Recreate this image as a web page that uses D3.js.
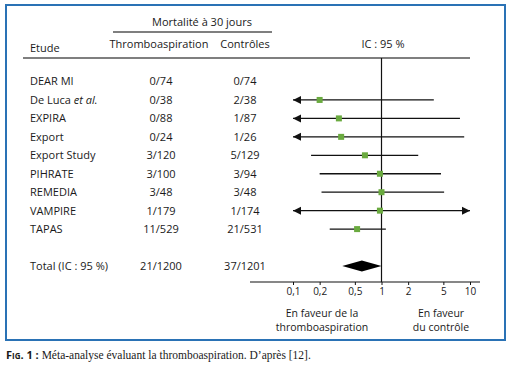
<!DOCTYPE html>
<html>
<head>
<meta charset="utf-8">
<script src="https://cdn.jsdelivr.net/npm/d3@7"></script>
<style>
  body { margin: 0; background: #fff; }
  svg text { font-family: "Open Sans", "DejaVu Sans", sans-serif; fill: #1a1a1a; }
</style>
</head>
<body>
<div id="chart"></div>
<script>
const studies = ["DEAR MI", "De Luca", "EXPIRA", "Export", "Export Study", "PIHRATE", "REMEDIA", "VAMPIRE", "TAPAS"];
const thrombo = ["0/74", "0/38", "0/88", "0/24", "3/120", "3/100", "3/48", "1/179", "11/529"];
const controles = ["0/74", "2/38", "1/87", "1/26", "5/129", "3/94", "3/48", "1/174", "21/531"];
// odds ratio and 95% CI, null = beyond the scale (arrow)
const orPoint = [null, 0.2, 0.33, 0.35, 0.65, 0.96, 1.0, 0.96, 0.53];
const ciLow = [null, null, null, null, 0.16, 0.2, 0.21, null, 0.26];
const ciHigh = [null, 3.9, 7.7, 8.6, 2.6, 4.7, 5.1, null, 1.12];
const total = { label: "Total (IC : 95 %)", thrombo: "21/1200", controles: "37/1201", low: 0.36, point: 0.6, high: 1.0 };
const ticks = [0.1, 0.2, 0.5, 1, 2, 5, 10];

const width = 512, height = 378;
const svg = d3.select("#chart").append("svg")
    .attr("width", width)
    .attr("height", height);

// frame
svg.append("rect")
    .attr("x", 6).attr("y", 5)
    .attr("width", 499).attr("height", 335)
    .attr("fill", "none")
    .attr("stroke", "#2a72b5")
    .attr("stroke-width", 2);

const x = d3.scaleLog().domain([0.1, 10]).range([293, 470]);
const rows = studies.concat(["", "Total"]);
const y = d3.scalePoint().domain(rows).range([81.5, 266]);

const colStudy = 30, colT = 161, colC = 245;
const fs = "11px";

// headers
svg.append("text").attr("x", 202).attr("y", 22).attr("dy", "0.35em")
    .attr("text-anchor", "middle").style("font-size", fs).text("Mortalité à 30 jours");
svg.append("line").attr("x1", 113).attr("x2", 272).attr("y1", 32).attr("y2", 32)
    .attr("stroke", "#555").attr("stroke-width", 1.5);
svg.append("text").attr("x", colStudy).attr("y", 48).attr("dy", "0.35em")
    .style("font-size", fs).text("Etude");
svg.append("text").attr("x", colT - 2).attr("y", 44).attr("dy", "0.35em")
    .attr("text-anchor", "middle").style("font-size", fs).text("Thromboaspiration");
svg.append("text").attr("x", colC).attr("y", 44).attr("dy", "0.35em")
    .attr("text-anchor", "middle").style("font-size", fs).text("Contrôles");
svg.append("text").attr("x", 383).attr("y", 44).attr("dy", "0.35em")
    .attr("text-anchor", "middle").style("font-size", fs).text("IC : 95 %");
svg.append("line").attr("x1", 23).attr("x2", 470).attr("y1", 58).attr("y2", 58)
    .attr("stroke", "#555").attr("stroke-width", 1.5);

// vertical line at 1
svg.append("line").attr("x1", x(1)).attr("x2", x(1)).attr("y1", 58).attr("y2", 282)
    .attr("stroke", "#111").attr("stroke-width", 1.2);

// study rows
const row = svg.selectAll(".row").data(studies).enter().append("g").attr("class", "row");
row.append("text").attr("x", colStudy).attr("y", d => y(d)).attr("dy", "0.35em")
    .style("font-size", fs)
    .each(function(d) {
        const t = d3.select(this);
        if (d === "De Luca") {
            t.append("tspan").text("De Luca ");
            t.append("tspan").style("font-style", "italic").text("et al.");
        } else t.text(d);
    });
row.append("text").attr("x", colT).attr("y", d => y(d)).attr("dy", "0.35em")
    .attr("text-anchor", "middle").style("font-size", fs).text((d, i) => thrombo[i]);
row.append("text").attr("x", colC).attr("y", d => y(d)).attr("dy", "0.35em")
    .attr("text-anchor", "middle").style("font-size", fs).text((d, i) => controles[i]);

const [xmin, xmax] = x.domain();
studies.forEach((s, i) => {
    if (orPoint[i] === null) return;
    const yy = y(s);
    const lo = ciLow[i] === null ? xmin : ciLow[i];
    const hi = ciHigh[i] === null ? xmax : ciHigh[i];
    svg.append("line").attr("x1", x(lo)).attr("x2", x(hi)).attr("y1", yy).attr("y2", yy)
        .attr("stroke", "#111").attr("stroke-width", 1.3);
    if (ciLow[i] === null) {
        const x0 = x(xmin);
        svg.append("path").attr("d", `M${x0},${yy}L${x0 + 8},${yy - 4}L${x0 + 8},${yy + 4}Z`).attr("fill", "#111");
    }
    if (ciHigh[i] === null) {
        const x1 = x(xmax);
        svg.append("path").attr("d", `M${x1},${yy}L${x1 - 8},${yy - 4}L${x1 - 8},${yy + 4}Z`).attr("fill", "#111");
    }
    svg.append("rect").attr("x", x(orPoint[i]) - 3).attr("y", yy - 3)
        .attr("width", 6).attr("height", 6).attr("fill", "#6aaa3f");
});

// total row
const yt = y("Total");
svg.append("text").attr("x", colStudy).attr("y", yt).attr("dy", "0.35em").style("font-size", fs).text(total.label);
svg.append("text").attr("x", colT).attr("y", yt).attr("dy", "0.35em").attr("text-anchor", "middle").style("font-size", fs).text(total.thrombo);
svg.append("text").attr("x", colC).attr("y", yt).attr("dy", "0.35em").attr("text-anchor", "middle").style("font-size", fs).text(total.controles);
svg.append("path")
    .attr("d", `M${x(total.low)},${yt}L${x(total.point)},${yt - 5.5}L${x(total.high)},${yt}L${x(total.point)},${yt + 5.5}Z`)
    .attr("fill", "#000");

// axis
const axis = svg.append("g").attr("transform", "translate(0,282)")
    .call(d3.axisBottom(x).tickValues(ticks).tickSize(3).tickPadding(3)
        .tickFormat(d => String(d).replace(".", ",")));
axis.select(".domain").remove();
axis.selectAll(".tick line").attr("stroke", "#111");
axis.selectAll(".tick text").style("font-size", "10px").style("font-family", "\"Open Sans\", sans-serif").attr("fill", "#1a1a1a");
svg.append("line").attr("x1", 250).attr("x2", 480).attr("y1", 282).attr("y2", 282)
    .attr("stroke", "#111").attr("stroke-width", 1.2);

// favour labels
const fav = [
    { cx: 322, lines: ["En faveur de la", "thromboaspiration"] },
    { cx: 441, lines: ["En faveur", "du contrôle"] }
];
fav.forEach(f => {
    f.lines.forEach((l, k) => {
        svg.append("text").attr("x", f.cx).attr("y", 313 + k * 14.5).attr("dy", "0.35em")
            .attr("text-anchor", "middle").style("font-size", "10.5px").text(l);
    });
});

// caption
const cap = svg.append("text").attr("x", 6).attr("y", 359);
cap.append("tspan").style("font-weight", "bold").style("font-variant", "small-caps")
    .style("font-size", "11px").text("Fig. 1 : ");
cap.append("tspan").style("font-family", "\"Liberation Serif\", serif").style("font-size", "11.5px")
    .text("Méta-analyse évaluant la thromboaspiration. D’après [12].");
</script>
</body>
</html>
